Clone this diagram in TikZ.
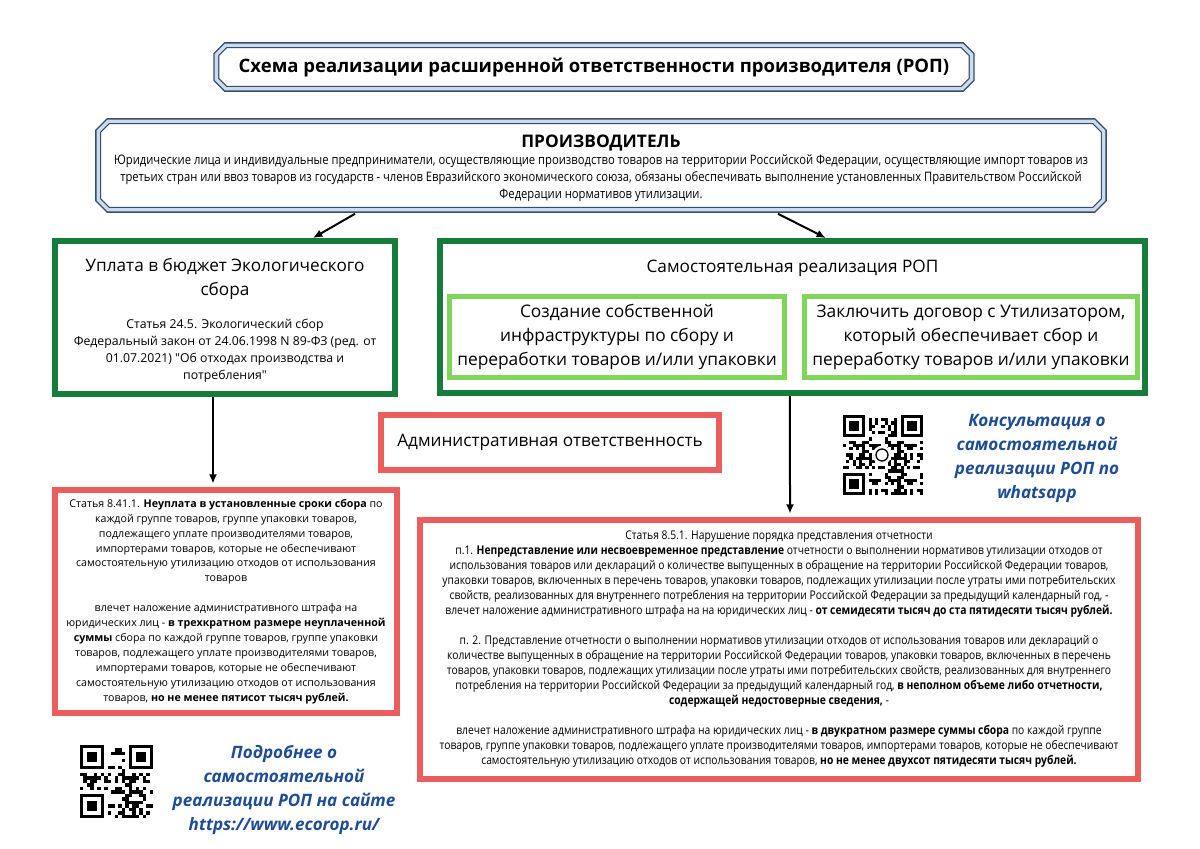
\documentclass[tikz,border=0pt]{standalone}
\usepackage{fontspec}
\setmainfont{Open Sans}
\newfontfamily\condensed{Open Sans}[FakeStretch=0.86]
\usetikzlibrary{arrows.meta,positioning}

\definecolor{frameblue}{RGB}{52,78,110}
\definecolor{bandblue}{RGB}{205,218,235}
\definecolor{darkgreen}{RGB}{22,124,60}
\definecolor{lightgreen}{RGB}{128,214,90}
\definecolor{finered}{RGB}{236,94,94}
\definecolor{linkblue}{RGB}{30,76,150}

% outline with cut corners round a named node
\newcommand\chamferpath[2]{([xshift=#2]#1.north west) -- ([xshift=-#2]#1.north east) -- ([yshift=-#2]#1.north east) -- ([yshift=#2]#1.south east) -- ([xshift=-#2]#1.south east) -- ([xshift=#2]#1.south west) -- ([yshift=#2]#1.south west) -- ([yshift=-#2]#1.north west) -- cycle}

% finder square of a QR block: left, top (px), module (px)
\newcommand\qrfinder[3]{%
  \fill[white] ({#1-#3},{#2-#3}) rectangle ++({9*#3},{9*#3});
  \fill ({#1},{#2}) rectangle ++({7*#3},{7*#3});
  \fill[white] ({#1+#3},{#2+#3}) rectangle ++({5*#3},{5*#3});
  \fill ({#1+2*#3},{#2+2*#3}) rectangle ++({3*#3},{3*#3});
}

% QR-like block: left, top (px), size (px), modules, seed
\newcommand\qrblock[5]{%
  \pgfmathsetmacro\qrm{#3/#4}%
  \foreach \i in {1,...,#4}{%
    \foreach \j in {1,...,#4}{%
      \pgfmathtruncatemacro\qrbit{mod(\i*\i*3+\j*\j*5+\i*\j*7+\i*#5+\j,11)<5}%
      \ifnum\qrbit=1
        \fill ({#1+(\i-1)*\qrm},{#2+(\j-1)*\qrm}) rectangle ++(\qrm,\qrm);
      \fi
    }%
  }%
  \pgfmathsetmacro\qrfar{#3-7*\qrm}%
  \qrfinder{#1}{#2}{\qrm}
  \qrfinder{#1+\qrfar}{#2}{\qrm}
  \qrfinder{#1}{#2+\qrfar}{\qrm}
}

\begin{document}
\begin{tikzpicture}[x=0.75pt,y=-0.75pt]
  \tikzstyle{framed}=[rectangle,inner sep=0pt]
  \tikzstyle{frame}=[draw=frameblue,line width=1pt,double=bandblue,double distance=2.5pt,line join=miter]
  \tikzstyle{greenbox}=[rectangle,draw=darkgreen,line width=4.5pt,inner sep=0pt]
  \tikzstyle{optbox}=[rectangle,draw=lightgreen,line width=3.8pt,align=center,font=\fontsize{13}{18}\selectfont]
  \tikzstyle{redbox}=[rectangle,draw=finered,line width=4.5pt,align=center,inner sep=0pt]
  \tikzstyle{arr}=[draw,->,>={Latex[length=7pt,width=6pt]},line width=1.5pt]
  \tikzstyle{bluetext}=[text=linkblue,align=center,font=\fontsize{12.8}{18}\selectfont\bfseries\itshape]

  \useasboundingbox[fill=white] (0,0) rectangle (1200,849);

  \node [framed,minimum width=566pt,minimum height=32.25pt,font=\fontsize{13.9}{17}\selectfont\bfseries] (title) at (594,67) {Схема реализации расширенной ответственности производителя (РОП)};
  \draw[frame] \chamferpath{title}{7pt};

  \node [framed,minimum width=753.75pt,minimum height=66pt] (prod) at (601,165.5) {};
  \draw[frame] \chamferpath{prod}{7.5pt};
  \node [font=\fontsize{13}{16}\selectfont\bfseries] (prodname) at (601,143) {ПРОИЗВОДИТЕЛЬ};
  \node [align=center,font=\condensed\fontsize{9.8}{12.75}\selectfont] (proddesc) at (601,178) {Юридические лица и индивидуальные предприниматели, осуществляющие производство товаров на территории Российской Федерации, осуществляющие импорт товаров из\\третьих стран или ввоз товаров из государств - членов Евразийского экономического союза, обязаны обеспечивать выполнение установленных Правительством Российской\\Федерации нормативов утилизации.};

  \node [greenbox,minimum width=255pt,minimum height=114.75pt] (pay) at (225,317.5) {};
  \node [align=center,font=\fontsize{12.9}{18}\selectfont] (payhead) at (225,279) {Уплата в бюджет Экологического\\сбора};
  \node [align=center,font=\fontsize{9.2}{12.75}\selectfont] (paylaw) at (225,351) {Статья 24.5. Экологический сбор\\Федеральный закон от 24.06.1998 N 89-ФЗ (ред. от\\01.07.2021) \textquotedbl Об отходах производства и\\потребления\textquotedbl};

  \node [greenbox,minimum width=528.75pt,minimum height=114pt] (self) at (792.5,317) {};
  \node [font=\fontsize{12.9}{18}\selectfont] (selfhead) at (792.5,268) {Самостоятельная реализация РОП};
  \node [optbox,minimum width=251.25pt,minimum height=60.75pt] (own) at (617,337) {Создание собственной\\инфраструктуры по сбору и\\переработки товаров и/или упаковки};
  \node [optbox,minimum width=249.75pt,minimum height=60.75pt] (contract) at (971,337) {Заключить договор с Утилизатором,\\который обеспечивает сбор и\\переработку товаров и/или упаковки};

  \node [redbox,minimum width=253.5pt,minimum height=41.25pt,font=\fontsize{12.9}{18}\selectfont] (admin) at (550,442.5) {Административная ответственность};

  \node [redbox,minimum width=256.5pt,minimum height=167.25pt,font=\fontsize{8}{11.2}\selectfont] (fineL) at (226,601.5) {Статья 8.41.1. \textbf{Неуплата в установленные сроки сбора} по\\каждой группе товаров, группе упаковки товаров,\\подлежащего уплате производителями товаров,\\импортерами товаров, которые не обеспечивают\\самостоятельную утилизацию отходов от использования\\товаров\\[11.2pt]влечет наложение административного штрафа на\\юридических лиц - \textbf{в трехкратном размере неуплаченной}\\\textbf{суммы} сбора по каждой группе товаров, группе упаковки\\товаров, подлежащего уплате производителями товаров,\\импортерами товаров, которые не обеспечивают\\самостоятельную утилизацию отходов от использования\\товаров, \textbf{но не менее пятисот тысяч рублей.}};

  \node [redbox,minimum width=538.5pt,minimum height=194.25pt,font=\condensed\fontsize{9}{11.25}\selectfont] (fineR) at (779,649.5) {Статья 8.5.1. Нарушение порядка представления отчетности\\п.1. \textbf{Непредставление или несвоевременное представление} отчетности о выполнении нормативов утилизации отходов от\\использования товаров или деклараций о количестве выпущенных в обращение на территории Российской Федерации товаров,\\упаковки товаров, включенных в перечень товаров, упаковки товаров, подлежащих утилизации после утраты ими потребительских\\свойств, реализованных для внутреннего потребления на территории Российской Федерации за предыдущий календарный год, -\\влечет наложение административного штрафа на на юридических лиц - \textbf{от семидесяти тысяч до ста пятидесяти тысяч рублей.}\\[11.25pt]п. 2. Представление отчетности о выполнении нормативов утилизации отходов от использования товаров или деклараций о\\количестве выпущенных в обращение на территории Российской Федерации товаров, упаковки товаров, включенных в перечень\\товаров, упаковки товаров, подлежащих утилизации после утраты ими потребительских свойств, реализованных для внутреннего\\потребления на территории Российской Федерации за предыдущий календарный год, \textbf{в неполном объеме либо отчетности,}\\\textbf{содержащей недостоверные сведения,} -\\[11.25pt]влечет наложение административного штрафа на юридических лиц - \textbf{в двукратном размере суммы сбора} по каждой группе\\товаров, группе упаковки товаров, подлежащего уплате производителями товаров, импортерами товаров, которые не обеспечивают\\самостоятельную утилизацию отходов от использования товаров, \textbf{но не менее двухсот пятидесяти тысяч рублей.}};

  \path[arr] ([xshift=-184.5pt,yshift=-3pt]prod.south) -- ([xshift=66pt]pay.north);
  \path[arr] ([xshift=132.75pt,yshift=-3pt]prod.south) -- ([xshift=25pt]self.north);
  \path[arr] ([xshift=-9pt]pay.south) -- ([xshift=-9.75pt,yshift=2.5pt]fineL.north);
  \path[arr] ([xshift=-1.9pt]self.south) -- ([xshift=8.25pt,yshift=2.5pt]fineR.north);

  % qr codes
  \qrblock{843}{415}{80}{25}{3}
  \fill[white] (882,455) circle (7pt);
  \draw[line width=1pt] (882,455) circle (4.5pt);
  \qrblock{80}{745}{73}{21}{5}

  \node [bluetext] (whatsapp) at (1037,458) {Консультация о\\самостоятельной\\реализации РОП по\\whatsapp};
  \node [bluetext] (website) at (284,790) {Подробнее о\\самостоятельной\\реализации РОП на сайте\\https://www.ecorop.ru/};
\end{tikzpicture}
\end{document}
